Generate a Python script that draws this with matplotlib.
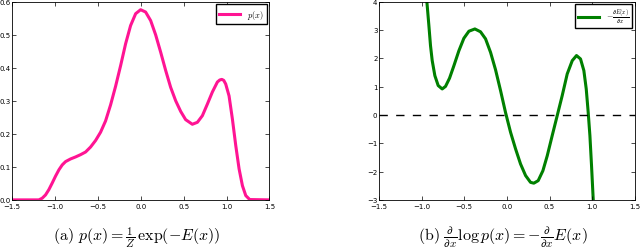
import matplotlib
matplotlib.use("Agg")
import matplotlib.pyplot as plt

plt.style.use("classic")
plt.rcParams["mathtext.fontset"] = "cm"

# p(x)
px_x = [-1.5, -1.189, -1.15, -1.111, -1.072, -1.033, -0.994, -0.955, -0.916, -0.877,
        -0.819, -0.761, -0.702, -0.644, -0.586, -0.527, -0.469, -0.411, -0.352,
        -0.294, -0.235, -0.177, -0.119, -0.06, -0.002, 0.056, 0.115, 0.173, 0.232,
        0.29, 0.348, 0.407, 0.465, 0.523, 0.601, 0.66, 0.718, 0.776, 0.835, 0.893,
        0.92, 0.944, 0.967, 0.99, 1.029, 1.068, 1.107, 1.146, 1.185, 1.224, 1.27, 1.5]
px_y = [0.0, 0.0, 0.005, 0.015, 0.031, 0.051, 0.072, 0.091, 0.106, 0.116,
        0.124, 0.13, 0.137, 0.145, 0.16, 0.18, 0.205, 0.239, 0.288,
        0.344, 0.407, 0.473, 0.528, 0.564, 0.576, 0.569, 0.543, 0.5, 0.447,
        0.392, 0.341, 0.3, 0.268, 0.243, 0.229, 0.235, 0.255, 0.29, 0.327, 0.357,
        0.363, 0.365, 0.362, 0.351, 0.315, 0.245, 0.165, 0.094, 0.043, 0.013, 0.001, 0.0]

# score -dE/dx
sc_x = [-0.9375, -0.914, -0.895, -0.875, -0.844, -0.805, -0.758, -0.719, -0.672,
        -0.621, -0.5625, -0.504, -0.445, -0.375, -0.309, -0.25, -0.191, -0.133,
        -0.074, -0.016, 0.043, 0.102, 0.16, 0.219, 0.277, 0.316, 0.367, 0.422,
        0.473, 0.531, 0.59, 0.648, 0.707, 0.766, 0.816, 0.863, 0.902, 0.93,
        0.953, 0.973, 0.992, 1.012]
sc_y = [4.0, 3.16, 2.45, 1.92, 1.39, 1.04, 0.92, 1.01, 1.3,
        1.74, 2.27, 2.71, 2.96, 3.04, 2.94, 2.69, 2.21, 1.6,
        0.86, 0.09, -0.61, -1.2, -1.73, -2.14, -2.38, -2.41, -2.32, -1.97,
        -1.44, -0.73, -0.02, 0.68, 1.45, 1.92, 2.1, 1.98, 1.57, 0.92,
        0.09, -0.73, -1.79, -3.0]

xticks = [-1.5, -1.0, -0.5, 0.0, 0.5, 1.0, 1.5]

fig = plt.figure(figsize=(6.4, 2.53), dpi=100)
fig.patch.set_facecolor("white")

ax1 = fig.add_axes([0.019, 0.206, 0.402, 0.783])
ax1.plot(px_x, px_y, color="#ff1493", lw=2.2, label=r"$p(x)$",
         solid_joinstyle="round")
ax1.set_xlim(-1.5, 1.5)
ax1.set_ylim(0, 0.6)
ax1.set_xticks(xticks)
ax1.set_yticks([0.0, 0.1, 0.2, 0.3, 0.4, 0.5, 0.6])
ax1.legend(loc="upper right", fontsize=6, handlelength=2.5, numpoints=1,
           borderaxespad=0.3, fancybox=False)

ax2 = fig.add_axes([0.592, 0.206, 0.4, 0.783])
ax2.plot(sc_x, sc_y, color="green", lw=2.2, solid_joinstyle="round",
         label=r"$-\frac{\partial E(x)}{\partial x}$")
ax2.axhline(0, color="black", ls="--", lw=1)
ax2.set_xlim(-1.5, 1.5)
ax2.set_ylim(-3, 4)
ax2.set_xticks(xticks)
ax2.set_yticks(range(-3, 5))
ax2.legend(loc="upper right", fontsize=6, handlelength=2.5, numpoints=1,
           borderaxespad=0.3, fancybox=False)

for ax in (ax1, ax2):
    ax.tick_params(labelsize=5, length=3)
    ax.tick_params(axis="x", pad=2)
    ax.tick_params(axis="y", pad=1)
    for s in ax.spines.values():
        s.set_linewidth(0.6)

fig.text(0.214, 0.012, r"$\mathrm{(a)}\ p(x) = \frac{1}{Z}\,\exp(-E(x))$",
         ha="center", va="bottom", fontsize=11.5)
fig.text(0.786, 0.012,
         r"$\mathrm{(b)}\ \frac{\partial}{\partial x}\log p(x) = -\frac{\partial}{\partial x}E(x)$",
         ha="center", va="bottom", fontsize=11.5)

fig.savefig("out.png", dpi=100, facecolor="white")
